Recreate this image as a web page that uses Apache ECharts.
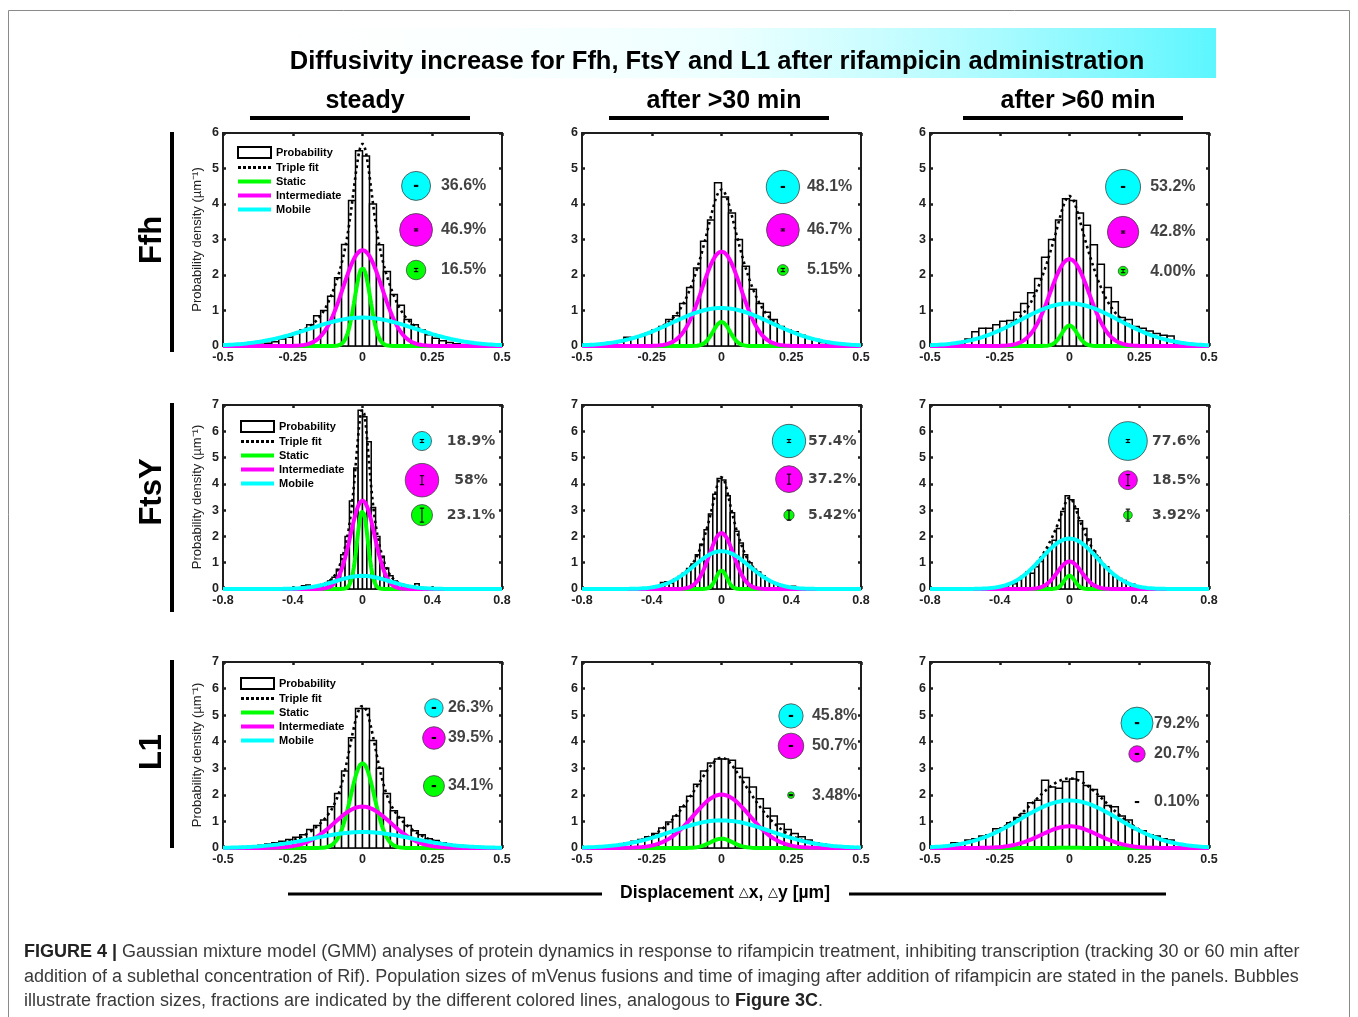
<!DOCTYPE html>
<html>
<head>
<meta charset="utf-8">
<script src="https://cdn.jsdelivr.net/npm/echarts@6/dist/echarts.min.js"></script>
<style>
  html, body { margin: 0; padding: 0; background: #fff; }
  #chart { width: 1358px; height: 1017px; }
</style>
</head>
<body>
<div id="chart"></div>
<script>
var proteins = ['Ffh', 'FtsY', 'L1'];
var conditions = ['steady', 'after >30 min', 'after >60 min'];
var fractionNames = ['Static', 'Intermediate', 'Mobile'];
var fractionColors = ['#00ff00', '#ff00ff', '#00ffff'];

// axes per row
var xLimits = [0.5, 0.8, 0.5];
var xTickStep = [0.25, 0.4, 0.25];
var yLimits = [6, 7, 7];
var binWidth = 0.025;

// histograms, probability density per bin (bins symmetric around 0)
var ffhHist = [
  [0.01,0.02,0.03,0.05,0.08,0.12,0.2,0.25,0.35,0.45,0.6,0.85,1.0,1.4,1.92,2.86,4.1,5.5, 5.35,4.0,2.85,2.1,1.45,1.15,0.75,0.6,0.45,0.32,0.22,0.15,0.1,0.06,0.04,0.02,0.01,0.01],
  [0.04,0.06,0.08,0.12,0.25,0.22,0.28,0.35,0.45,0.55,0.75,0.85,1.2,1.65,2.2,2.95,3.55,4.6, 4.2,3.75,3.0,2.25,1.6,1.2,0.95,0.75,0.55,0.45,0.4,0.3,0.22,0.18,0.1,0.06,0.04,0.02],
  [0.03,0.06,0.1,0.2,0.4,0.5,0.5,0.6,0.7,0.72,0.95,1.2,1.5,1.9,2.5,3.0,3.55,4.15, 4.1,3.75,3.4,2.85,2.3,1.65,1.25,0.8,0.75,0.55,0.5,0.42,0.35,0.3,0.28,0.1,0.05,0.02]
];
var ftsyHist = [
  [0,0,0,0,0.02,0.03,0.12,0.15,0.05,0.08,0.12,0.2,0.3,0.45,0.75,1.3,2.0,3.35,4.6,6.8, 6.55,5.6,3.1,2.0,1.25,0.8,0.5,0.3,0.2,0.15,0.1,0.08,0.2,0.06,0.03,0.02,0,0,0,0],
  [0,0.02,0.04,0.05,0.08,0.12,0.25,0.28,0.22,0.38,0.48,0.6,0.78,0.95,1.3,1.7,2.25,2.85,3.6,4.2, 4.15,3.55,2.9,2.2,1.75,1.3,1.0,0.75,0.65,0.5,0.35,0.28,0.2,0.12,0.1,0.05,0.1,0.02,0.01,0],
  [0,0.01,0.03,0.05,0.1,0.15,0.2,0.2,0.35,0.5,0.65,0.6,0.85,1.05,1.3,1.55,1.85,2.3,2.95,3.55, 3.4,3.05,2.6,2.3,1.9,1.45,1.2,0.95,0.85,0.6,0.48,0.4,0.32,0.2,0.18,0.1,0.06,0.04,0.02,0]
];
var l1Hist = [
  [0.02,0.04,0.06,0.1,0.15,0.2,0.25,0.32,0.4,0.5,0.7,0.85,1.05,1.55,2.05,2.9,4.15,5.25, 5.25,4.05,3.0,2.05,1.4,1.15,0.85,0.65,0.5,0.35,0.28,0.2,0.12,0.08,0.06,0.04,0.02,0.01],
  [0.03,0.05,0.08,0.12,0.18,0.25,0.32,0.42,0.55,0.75,0.98,1.2,1.55,1.95,2.4,2.9,3.2,3.35, 3.35,3.3,3.0,2.65,2.3,1.85,1.5,1.2,0.9,0.7,0.55,0.42,0.3,0.2,0.14,0.08,0.05,0.03],
  [0.05,0.2,0.15,0.3,0.35,0.45,0.5,0.72,0.75,0.95,1.15,1.3,1.7,1.8,2.55,2.3,2.25,2.5, 2.6,2.87,2.35,2.2,1.95,1.6,1.55,1.2,1.05,0.7,0.65,0.5,0.45,0.35,0.3,0.15,0.05,0.02]
];

// GMM fit, peak height and sigma of static / intermediate / mobile
var ffhPeak = [[2.2, 2.7, 0.8], [0.68, 2.66, 1.07], [0.58, 2.45, 1.2]];
var ffhSigma = [[0.028, 0.07, 0.19], [0.03, 0.07, 0.179], [0.0275, 0.07, 0.177]];
var ftsyPeak = [[2.99, 3.37, 0.5], [0.71, 2.13, 1.44], [0.51, 1.05, 1.92]];
var ftsySigma = [[0.031, 0.069, 0.151], [0.0305, 0.07, 0.159], [0.0307, 0.07, 0.161]];
var l1Peak = [[3.2, 1.56, 0.6], [0.35, 2.01, 1.04], [0.01, 0.82, 1.79]];
var l1Sigma = [[0.0425, 0.101, 0.175], [0.04, 0.1006, 0.176], [0.04, 0.1007, 0.1766]];

// fraction sizes (%) and their errors, static / intermediate / mobile
var ffhFrac = [['16.5', '46.9', '36.6'], ['5.15', '46.7', '48.1'], ['4.00', '42.8', '53.2']];
var ftsyFrac = [['23.1', '58', '18.9'], ['5.42', '37.2', '57.4'], ['3.92', '18.5', '77.6']];
var l1Frac = [['34.1', '39.5', '26.3'], ['3.48', '50.7', '45.8'], ['0.10', '20.7', '79.2']];
var ffhErr = [[1.6, 1, 0.5], [1.6, 1, 0.5], [1.6, 1, 0.5]];
var ftsyErr = [[7, 4.5, 1.5], [5, 5, 1.5], [6, 5.5, 1.5]];
var l1Err = [[0.5, 0.5, 0.5], [0.5, 0.5, 0.5], [0.5, 0.5, 0.5]];

var histAll = [ffhHist, ftsyHist, l1Hist];
var peakAll = [ffhPeak, ftsyPeak, l1Peak];
var sigmaAll = [ffhSigma, ftsySigma, l1Sigma];
var fracAll = [ffhFrac, ftsyFrac, l1Frac];
var errAll = [ffhErr, ftsyErr, l1Err];

// layout
var colLeft = [223, 582, 930];
var gridWidth = 279;
var rowTop = [133, 405, 662];
var rowHeight = [213, 184, 186];
var bubbleX = [[0.192, 0.220, 0.192], [0.341, 0.387, 0.335], [0.256, 0.249, 0.242]];
var bubbleY = [
  [[2.14, 3.27, 4.51], [2.14, 3.27, 4.48], [2.11, 3.21, 4.48]],
  [[2.81, 4.14, 5.63], [2.81, 4.18, 5.63], [2.81, 4.14, 5.63]],
  [[2.33, 4.14, 5.27], [1.99, 3.84, 4.97], [1.73, 3.54, 4.70]]
];
var labelX = [[0.281, 0.306, 0.289], [0.622, 0.496, 0.473], [0.306, 0.324, 0.303]];
var bubbleScale = [24, 22, 18];
var legendPos = [[237, 146], [240, 420], [240, 677]];

var FONT = 'Liberation Sans';

function gaussian(peak, sigma, xMax) {
  var pts = [];
  var n = 320;
  for (var i = 0; i <= n; i++) {
    var x = -xMax + i * 2 * xMax / n;
    pts.push([x, peak * Math.exp(-x * x / (2 * sigma * sigma))]);
  }
  return pts;
}

function renderBar(params, api) {
  var a = api.coord([api.value(0), api.value(2)]);
  var b = api.coord([api.value(1), 0]);
  return {
    type: 'rect',
    shape: {x: a[0], y: a[1], width: b[0] - a[0], height: b[1] - a[1]},
    style: {fill: '#fff', stroke: '#000', lineWidth: 1.5}
  };
}

function renderErr(params, api) {
  var p = api.coord([api.value(0), api.value(1)]);
  var e = api.value(2);
  var st = {stroke: '#000', lineWidth: 1.1};
  return {
    type: 'group',
    children: [
      {type: 'line', shape: {x1: p[0], y1: p[1] - e, x2: p[0], y2: p[1] + e}, style: st},
      {type: 'line', shape: {x1: p[0] - 2.2, y1: p[1] - e, x2: p[0] + 2.2, y2: p[1] - e}, style: st},
      {type: 'line', shape: {x1: p[0] - 2.2, y1: p[1] + e, x2: p[0] + 2.2, y2: p[1] + e}, style: st}
    ]
  };
}

var option = {
  animation: false,
  backgroundColor: '#fff',
  textStyle: {fontFamily: FONT},
  grid: [], xAxis: [], yAxis: [], series: [], legend: [], graphic: []
};

var axisLineStyle = {show: true, onZero: false, lineStyle: {color: '#1e1e1e', width: 2}};
var tickStyle = {show: true, inside: true, length: 3, lineStyle: {color: '#1e1e1e', width: 2.5}};
var tickLabel = {fontFamily: FONT, fontWeight: 'bold', fontSize: 12.5, color: '#222'};

for (var r = 0; r < 3; r++) {
  for (var c = 0; c < 3; c++) {
    var k = r * 3 + c;
    var xMax = xLimits[r];
    option.grid.push({left: colLeft[c], top: rowTop[r], width: gridWidth, height: rowHeight[r]});
    option.xAxis.push({
      gridIndex: k, type: 'value', min: -xMax, max: xMax, interval: xTickStep[r],
      axisLine: axisLineStyle, axisTick: tickStyle, splitLine: {show: false},
      axisLabel: Object.assign({margin: 5}, tickLabel)
    });
    option.xAxis.push({
      gridIndex: k, type: 'value', position: 'top', min: -xMax, max: xMax, interval: xTickStep[r],
      axisLine: axisLineStyle, axisTick: tickStyle, splitLine: {show: false}, axisLabel: {show: false}
    });
    var yAx = {
      gridIndex: k, type: 'value', min: 0, max: yLimits[r], interval: 1,
      axisLine: axisLineStyle, axisTick: tickStyle, splitLine: {show: false},
      axisLabel: Object.assign({margin: 4}, tickLabel)
    };
    if (c === 0) {
      yAx.name = 'Probability density (µm⁻¹)';
      yAx.nameLocation = 'middle';
      yAx.nameGap = 19;
      yAx.nameTextStyle = {fontFamily: FONT, fontSize: 13, color: '#222'};
    }
    option.yAxis.push(yAx);
    option.yAxis.push({
      gridIndex: k, type: 'value', position: 'right', min: 0, max: yLimits[r], interval: 1,
      axisLine: axisLineStyle, axisTick: tickStyle, splitLine: {show: false}, axisLabel: {show: false}
    });

    var xi = 2 * k, yi = 2 * k;
    var hist = histAll[r][c];
    var start = -hist.length * binWidth / 2;
    var bars = hist.map(function (h, i) {
      return [start + i * binWidth, start + (i + 1) * binWidth, h];
    });
    option.series.push({
      type: 'custom', name: 'Probability', xAxisIndex: xi, yAxisIndex: yi,
      renderItem: renderBar, data: bars, clip: true, silent: true,
      itemStyle: {color: '#fff', borderColor: '#000'},
      encode: {x: [0, 1], y: 2}
    });

    var peaks = peakAll[r][c], sigmas = sigmaAll[r][c];
    var comps = [0, 1, 2].map(function (j) { return gaussian(peaks[j], sigmas[j], xMax); });
    var total = comps[0].map(function (p, i) {
      return [p[0], p[1] + comps[1][i][1] + comps[2][i][1]];
    });
    option.series.push({
      type: 'line', name: 'Triple fit', xAxisIndex: xi, yAxisIndex: yi, data: total,
      symbol: 'none', silent: true, color: '#000',
      lineStyle: {color: '#000', width: 2.6, type: [2.6, 3.4]}
    });
    comps.forEach(function (pts, j) {
      option.series.push({
        type: 'line', name: fractionNames[j], xAxisIndex: xi, yAxisIndex: yi, data: pts,
        symbol: 'none', silent: true, color: fractionColors[j],
        lineStyle: {color: fractionColors[j], width: 4}
      });
    });

    // bubbles, error bars and percent labels
    var fr = fracAll[r][c];
    var bx = bubbleX[r][c], by = bubbleY[r][c];
    option.series.push({
      type: 'scatter', name: 'fractions', xAxisIndex: xi, yAxisIndex: yi, silent: true, z: 5,
      data: fr.map(function (f, j) {
        return {
          value: [bx, by[j]],
          symbolSize: 2 * bubbleScale[r] * Math.sqrt(parseFloat(f) / 100),
          itemStyle: {color: fractionColors[j], borderColor: '#444', borderWidth: 0.8, opacity: 1}
        };
      })
    });
    option.series.push({
      type: 'custom', name: 'errors', xAxisIndex: xi, yAxisIndex: yi, silent: true, z: 6,
      renderItem: renderErr,
      data: errAll[r][c].map(function (e, j) { return [bx, by[j], e]; })
    });
    var centred = (r === 1 && c === 0);
    option.series.push({
      type: 'scatter', name: 'labels', xAxisIndex: xi, yAxisIndex: yi, silent: true, z: 6,
      symbolSize: 0.1, itemStyle: {color: 'transparent'},
      label: {
        show: true,
        position: centred ? 'inside' : 'right',
        distance: 0,
        fontFamily: r === 1 ? 'DejaVu Sans' : FONT,
        fontWeight: 'bold',
        fontSize: r === 1 ? 14 : 16,
        color: '#111',
        formatter: function (p) { return p.data.text; }
      },
      data: fr.map(function (f, j) {
        return {value: [labelX[r][c], by[j]], text: f + '%'};
      })
    });
  }

  option.legend.push({
    orient: 'vertical', left: legendPos[r][0], top: legendPos[r][1],
    itemWidth: 33, itemHeight: 11, itemGap: 3, selectedMode: false, padding: 0,
    textStyle: {fontFamily: FONT, fontWeight: 'bold', fontSize: 11, color: '#000'},
    data: [
      {name: 'Probability', icon: 'rect', itemStyle: {color: '#fff', borderColor: '#000', borderWidth: 2}},
      {name: 'Triple fit', icon: 'path://M0,0h3v3h-3z M5,0h3v3h-3z M10,0h3v3h-3z M15,0h3v3h-3z M20,0h3v3h-3z M25,0h3v3h-3z M30,0h3v3h-3z', itemStyle: {color: '#000'}},
      {name: 'Static', icon: 'path://M0,0h33v4h-33z', itemStyle: {color: fractionColors[0]}},
      {name: 'Intermediate', icon: 'path://M0,0h33v4h-33z', itemStyle: {color: fractionColors[1]}},
      {name: 'Mobile', icon: 'path://M0,0h33v4h-33z', itemStyle: {color: fractionColors[2]}}
    ]
  });
}

function txt(x, y, text, size, weight, extra) {
  var el = {
    type: 'text', x: x, y: y, silent: true,
    style: {
      text: text, fontSize: size, fontWeight: weight || 'normal', fontFamily: FONT, fill: '#000',
      align: 'center', verticalAlign: 'middle', textAlign: 'center', textVerticalAlign: 'middle'
    }
  };
  if (extra) {
    for (var key in extra) el[key] = extra[key];
  }
  return el;
}
function bar(x, y, w, h) {
  return {type: 'rect', silent: true, shape: {x: x, y: y, width: w, height: h}, style: {fill: '#000'}};
}

var g = option.graphic;
g.push({type: 'rect', silent: true, shape: {x: 8.5, y: 10.5, width: 1341, height: 1040},
  style: {fill: 'none', stroke: '#8a8a8a', lineWidth: 1}});
g.push({type: 'rect', silent: true, shape: {x: 218, y: 28, width: 998, height: 50},
  style: {fill: new echarts.graphic.LinearGradient(0, 0.6, 1, 0.4, [
    {offset: 0, color: 'rgba(255,255,255,0)'},
    {offset: 0.5, color: 'rgba(225,255,255,0.6)'},
    {offset: 1, color: '#5cf6ff'}
  ])}});
g.push(txt(717, 62, 'Diffusivity increase for Ffh, FtsY and L1 after rifampicin administration', 25.5, 'bold'));

var headX = [365, 724, 1078];
conditions.forEach(function (name, i) {
  g.push(txt(headX[i], 101, name, 25, 'bold'));
  g.push(bar(headX[i] - 115, 116, 220, 4));
});

var labelY = [240, 492, 752];
var lineSpan = [[132, 352], [403, 612], [660, 848]];
proteins.forEach(function (name, i) {
  g.push(txt(152, labelY[i], name, 31, 'bold', {rotation: Math.PI / 2}));
  g.push(bar(170, lineSpan[i][0], 4, lineSpan[i][1] - lineSpan[i][0]));
});

g.push(bar(288, 892.5, 314, 3));
g.push(bar(849, 892.5, 317, 3));
g.push({
  type: 'text', x: 725, y: 893, silent: true,
  style: {
    text: 'Displacement {t|△}x, {t|△}y [µm]',
    fontSize: 17.5, fontWeight: 'bold', fontFamily: FONT, fill: '#000',
    align: 'center', verticalAlign: 'middle', textAlign: 'center', textVerticalAlign: 'middle',
    rich: {t: {fontSize: 13, fontWeight: 'normal', fontFamily: 'DejaVu Sans', fill: '#000'}}
  }
});

var captionLines = [
  '{b|FIGURE 4 |} Gaussian mixture model (GMM) analyses of protein dynamics in response to rifampicin treatment, inhibiting transcription (tracking 30 or 60 min after',
  'addition of a sublethal concentration of Rif). Population sizes of mVenus fusions and time of imaging after addition of rifampicin are stated in the panels. Bubbles',
  'illustrate fraction sizes, fractions are indicated by the different colored lines, analogous to {b|Figure 3C}.'
];
var captionY = [952, 977, 1001];
captionLines.forEach(function (line, i) {
  g.push({
    type: 'text', x: 24, y: captionY[i], silent: true,
    style: {
      text: line, fontSize: 18, fontFamily: FONT, fill: '#3a3a3a',
      align: 'left', verticalAlign: 'middle', textAlign: 'left', textVerticalAlign: 'middle',
      rich: {b: {fontWeight: 'bold', fill: '#222', fontSize: 18, fontFamily: FONT}}
    }
  });
});

var chart = echarts.init(document.getElementById('chart'));
chart.setOption(option);
</script>
</body>
</html>
